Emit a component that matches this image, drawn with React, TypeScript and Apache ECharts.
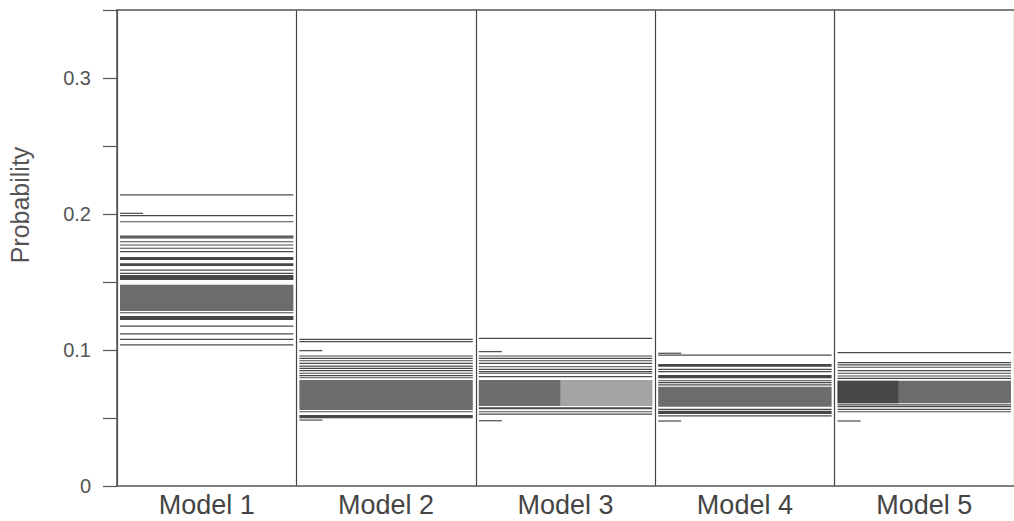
import React, { useEffect, useRef } from "react";
import * as echarts from "echarts";

const categories = ["Model 1", "Model 2", "Model 3", "Model 4", "Model 5"];
const yTickLabels = ["0", "0.1", "0.2", "0.3"];

// thin full-width lines (probabilities)
const lines1 = [0.214, 0.1988, 0.1943, 0.1838, 0.1831, 0.1824, 0.1796, 0.1772, 0.1748, 0.1723, 0.1588, 0.1564, 0.1274, 0.1176, 0.1118, 0.1078, 0.1037];
const lines2 = [0.1078, 0.1061, 0.0956, 0.0939, 0.0921, 0.0902, 0.0882, 0.0865, 0.0848, 0.0829, 0.0811, 0.0796, 0.0546];
const lines3 = [0.1086, 0.0956, 0.0939, 0.0921, 0.0902, 0.0877, 0.0858, 0.0841, 0.0829, 0.0804, 0.0546, 0.0529];
const lines4 = [0.0963, 0.0858, 0.0841, 0.0774, 0.076, 0.0743, 0.0564, 0.0515];
const lines5 = [0.098, 0.0907, 0.089, 0.0873, 0.0848, 0.0829, 0.0809, 0.0792, 0.0596, 0.0583, 0.0564, 0.0546];

// short ticks at the left of a panel
const short1 = [0.2005];
const short2 = [0.0995, 0.0485];
const short3 = [0.0988, 0.048];
const short4 = [0.0976, 0.0478];
const short5 = [0.0478];

// dense gray blocks [low, high]
const bands1 = [[0.1287, 0.148]];
const bands2 = [[0.0559, 0.0779]];
const bands3 = [[0.0588, 0.0779]];
const bands4 = [[0.0583, 0.073]];
const bands5 = [[0.0608, 0.0774]];

// dark narrow bands [low, high]
const dark1 = [[0.1662, 0.1684], [0.1618, 0.1637], [0.1515, 0.1551], [0.1221, 0.125]];
const dark2 = [[0.0498, 0.0522]];
const dark3 = [[0.0564, 0.0579]];
const dark4 = [[0.0877, 0.0897], [0.0792, 0.0816], [0.0529, 0.0554]];
const dark5 = [[0.0608, 0.0774]];

// speckled (noisy) part of a block [low, high]
const speckle3 = [[0.0588, 0.0779]];

const linesByModel = [lines1, lines2, lines3, lines4, lines5];
const shortByModel = [short1, short2, short3, short4, short5];
const bandsByModel = [bands1, bands2, bands3, bands4, bands5];
const darkByModel = [dark1, dark2, dark3, dark4, dark5];
const speckleByModel = [[], [], speckle3, [], []];
// which models have the dark overlay only on the left part
const darkLeftOnly = [false, false, false, false, true];

export default function App() {
  const ref = useRef<HTMLDivElement>(null);

  useEffect(() => {
    if (!ref.current) return;
    const chart = echarts.init(ref.current, undefined, { renderer: "svg" });

    const lineData: number[][] = [];
    linesByModel.forEach((arr, i) => arr.forEach((v) => lineData.push([i, v])));
    const shortData: number[][] = [];
    shortByModel.forEach((arr, i) => arr.forEach((v) => shortData.push([i, v])));
    const bandData: number[][] = [];
    bandsByModel.forEach((arr, i) => arr.forEach((b) => bandData.push([i, b[0], b[1]])));
    const darkData: number[][] = [];
    darkByModel.forEach((arr, i) => arr.forEach((b) => darkData.push([i, b[0], b[1]])));
    const speckleData: number[][] = [];
    speckleByModel.forEach((arr, i) => arr.forEach((b: number[]) => speckleData.push([i, b[0], b[1]])));

    const pad = 3;

    const bandRender = (color: string, mode: string) => (params: any, api: any) => {
      const idx = api.value(0);
      const lo = api.value(1);
      const hi = api.value(2);
      const pHi = api.coord([idx, hi]);
      const pLo = api.coord([idx, lo]);
      const w = api.size([1, 0])[0];
      let x = pHi[0] - w / 2 + pad;
      let width = w - 2 * pad;
      if (mode === "dark" && darkLeftOnly[idx]) {
        width = width * 0.35;
      }
      if (mode === "speckle") {
        x = x + width * 0.47;
        width = width * 0.53;
      }
      return {
        type: "rect",
        shape: { x, y: pHi[1], width, height: pLo[1] - pHi[1] },
        style: { fill: color },
      };
    };

    const lineRender = (color: string, short: boolean) => (params: any, api: any) => {
      const idx = api.value(0);
      const v = api.value(1);
      const p = api.coord([idx, v]);
      const w = api.size([1, 0])[0];
      const x1 = p[0] - w / 2 + pad;
      const x2 = short ? x1 + 23 : p[0] + w / 2 - pad;
      return {
        type: "line",
        shape: { x1, y1: p[1], x2, y2: p[1] },
        style: { stroke: color, lineWidth: 1.2 },
      };
    };

    chart.setOption({
      animation: false,
      backgroundColor: "#ffffff",
      textStyle: { fontFamily: "Liberation Sans, Arial, sans-serif" },
      grid: { left: 117, right: 0, top: 10, bottom: 35 },
      xAxis: [
        {
          type: "category",
          data: categories,
          position: "bottom",
          axisLine: { show: true, lineStyle: { color: "#555", width: 1.5 } },
          axisTick: { show: false },
          axisLabel: { color: "#444", fontSize: 27, margin: 5, interval: 0 },
          splitLine: { show: true, interval: 0, lineStyle: { color: "#444", width: 1.2 } },
        },
        {
          type: "category",
          data: categories,
          position: "top",
          axisLine: { show: true, lineStyle: { color: "#555", width: 1.5 } },
          axisTick: { show: false },
          axisLabel: { show: false },
          splitLine: { show: false },
        },
      ],
      yAxis: {
        type: "value",
        min: 0,
        max: 0.35,
        interval: 0.05,
        axisLine: { show: true, lineStyle: { color: "#555", width: 1.5 } },
        axisTick: { show: true, length: 14, lineStyle: { color: "#555", width: 1.2 } },
        axisLabel: {
          color: "#555",
          fontSize: 20,
          margin: 26,
          formatter: (v: number) => {
            const k = Math.round(v * 100);
            if (k % 10 !== 0) return "";
            const i = k / 10;
            return i < yTickLabels.length ? yTickLabels[i] : "";
          },
        },
        splitLine: { show: false },
      },
      graphic: [
        {
          type: "text",
          x: 20,
          y: 205,
          rotation: Math.PI / 2,
          style: {
            text: "Probability",
            fill: "#555",
            fontSize: 25,
            fontFamily: "Liberation Sans, Arial, sans-serif",
            align: "center",
            verticalAlign: "middle",
          },
        },
      ],
      series: [
        {
          type: "custom",
          renderItem: bandRender("#6c6c6c", "band"),
          data: bandData,
          encode: { x: 0, y: [1, 2] },
          clip: false,
          silent: true,
        },
        {
          type: "custom",
          renderItem: bandRender("#474747", "dark"),
          data: darkData,
          encode: { x: 0, y: [1, 2] },
          clip: false,
          silent: true,
        },
        {
          type: "custom",
          renderItem: bandRender("#a4a4a4", "speckle"),
          data: speckleData,
          encode: { x: 0, y: [1, 2] },
          clip: false,
          silent: true,
        },
        {
          type: "custom",
          renderItem: lineRender("#4a4a4a", false),
          data: lineData,
          encode: { x: 0, y: 1 },
          clip: false,
          silent: true,
        },
        {
          type: "custom",
          renderItem: lineRender("#4a4a4a", true),
          data: shortData,
          encode: { x: 0, y: 1 },
          clip: false,
          silent: true,
        },
      ],
    });

    return () => chart.dispose();
  }, []);

  return (
    <div
      ref={ref}
      style={{ position: "fixed", left: 0, top: 0, width: 1014, height: 521, background: "#fff" }}
    />
  );
}
